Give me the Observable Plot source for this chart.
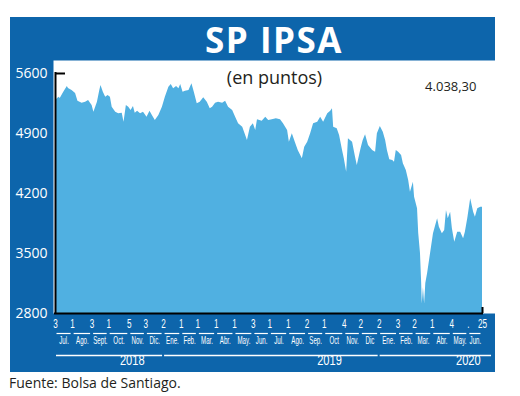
<!DOCTYPE html>
<html><head><meta charset="utf-8">
<script src="https://cdn.jsdelivr.net/npm/d3@7"></script>
<script src="https://cdn.jsdelivr.net/npm/@observablehq/plot@0.6"></script>
<style>
body{margin:0;background:#fff;width:520px;height:396px;position:relative;overflow:hidden;font-family:"Open Sans",sans-serif;}
#panel{position:absolute;left:10px;top:17px;width:485px;}
#title{height:43px;background:#0d65ab;color:#fff;font-weight:700;font-size:35px;line-height:45px;text-align:center;padding-left:43px;box-sizing:border-box;letter-spacing:1.5px;}
#chart svg{display:block}
#source{position:absolute;left:9px;top:374px;font-size:14px;color:#231f20;line-height:18px;}
</style></head><body>
<div id="panel"><div id="title">SP IPSA</div><div id="chart"></div></div>
<div id="source">Fuente: Bolsa de Santiago.</div>
<script>
const BLUE = "#0d65ab", FILL = "#50b0e1";

const dates = [
"2018-07-03","2018-07-09","2018-07-11","2018-07-17","2018-07-23","2018-07-25","2018-07-31","2018-08-06","2018-08-10","2018-08-17",
"2018-08-23","2018-08-28","2018-09-03","2018-09-06","2018-09-12","2018-09-16","2018-09-18","2018-09-22","2018-09-26","2018-09-30",
"2018-10-04","2018-10-07","2018-10-13","2018-10-18","2018-10-24","2018-10-27","2018-10-31","2018-11-04","2018-11-08","2018-11-12",
"2018-11-15","2018-11-19","2018-11-24","2018-11-29","2018-12-05","2018-12-10","2018-12-14","2018-12-19","2018-12-25","2018-12-31",
"2019-01-05","2019-01-11","2019-01-15","2019-01-19","2019-01-24","2019-01-28","2019-01-31","2019-02-04","2019-02-08","2019-02-14",
"2019-02-19","2019-02-23","2019-02-28","2019-03-05","2019-03-11","2019-03-17","2019-03-22","2019-03-26","2019-03-31","2019-04-05",
"2019-04-12","2019-04-17","2019-04-22","2019-04-29","2019-05-04","2019-05-09","2019-05-16","2019-05-21","2019-05-24","2019-05-29",
"2019-06-03","2019-06-07","2019-06-10","2019-06-18","2019-06-24","2019-06-29","2019-07-05","2019-07-12","2019-07-19","2019-07-24",
"2019-07-31","2019-08-03","2019-08-08","2019-08-13","2019-08-18","2019-08-25","2019-08-29","2019-09-03","2019-09-08","2019-09-13",
"2019-09-20","2019-09-25","2019-09-30","2019-10-07","2019-10-12","2019-10-15","2019-10-17","2019-10-23","2019-10-27","2019-11-01",
"2019-11-04","2019-11-08","2019-11-11","2019-11-18","2019-11-23","2019-11-26","2019-12-01","2019-12-03","2019-12-06","2019-12-10",
"2019-12-15","2019-12-22","2019-12-27","2019-12-30","2020-01-04","2020-01-09","2020-01-13","2020-01-16","2020-01-20","2020-01-25",
"2020-01-28","2020-01-31","2020-02-04","2020-02-09","2020-02-12","2020-02-17","2020-02-21","2020-02-24","2020-02-29","2020-03-02",
"2020-03-07","2020-03-09","2020-03-12","2020-03-14","2020-03-15","2020-03-17","2020-03-19","2020-03-21","2020-03-24","2020-03-29",
"2020-04-03","2020-04-06","2020-04-10","2020-04-13","2020-04-18","2020-04-22","2020-04-25","2020-04-28","2020-05-02","2020-05-05",
"2020-05-09","2020-05-14","2020-05-19","2020-05-24","2020-05-27","2020-05-31","2020-06-05","2020-06-10","2020-06-13","2020-06-17",
"2020-06-22","2020-06-25"];

const values = [
5285,5324,5308,5382,5448,5425,5402,5367,5277,5254,
5265,5285,5227,5149,5265,5402,5460,5382,5324,5343,
5324,5207,5149,5130,5137,5032,5227,5207,5168,5215,
5137,5160,5130,5149,5090,5160,5110,5052,5110,5207,
5324,5440,5472,5422,5448,5422,5472,5382,5394,5402,
5480,5382,5247,5265,5317,5265,5188,5207,5254,5265,
5254,5277,5207,5168,5090,5013,4974,4877,4818,4974,
5013,4935,5060,5044,5090,5052,5060,5072,5060,5013,
4935,4799,4897,4799,4702,4605,4740,4799,4897,5013,
5032,5090,5032,5130,5160,5188,4974,4955,4877,4702,
4605,4449,4838,4799,4624,4527,4682,4740,4818,4885,
4760,4702,4682,4897,4982,4915,4818,4702,4593,4585,
4565,4702,4682,4643,4547,4468,4352,4215,4332,4157,
4022,3733,3500,3150,2910,3100,2910,3150,3263,3497,
3730,3807,3905,3807,3730,3768,4002,3905,3982,3788,
3632,3749,3749,3671,3749,3905,4138,3982,3924,4022,
4040,4038.3];

const tickDates = ["2018-07-03","2018-08-01","2018-09-03","2018-10-01","2018-11-05","2018-12-03",
"2019-01-02","2019-02-01","2019-03-01","2019-04-01","2019-05-02","2019-06-03","2019-07-01","2019-08-01",
"2019-09-02","2019-10-01","2019-11-04","2019-12-02","2020-01-02","2020-02-03","2020-03-02","2020-04-01",
"2020-05-04","2020-06-01","2020-06-25"];
const tickLabels = ["3","1","3","1","5","3","2","1","1","1","1","3","1","1","2","1","4","2","2","3","2","1","4",".","25"];
const monthNames = ["Jul.","Ago.","Sept.","Oct.","Nov.","Dic.","Ene.","Feb.","Mar.","Abr.","May.","Jun.",
"Jul.","Ago.","Sep.","Oct","Nov.","Dic","Ene.","Feb.","Mar.","Abr.","May.","Jun."];
const years = ["2018","2019","2020"];
const yearStarts = ["2018-07-03","2019-01-02","2020-01-02"];
const yearEnds = ["2019-01-02","2020-01-02","2020-07-12"];
const yearLabelAt = ["2018-11-10","2019-10-10","2020-06-01"];
const yTicks = [2800,3500,4200,4900,5600];
const unitLabel = "(en puntos)";
const lastLabel = "4.038,30";

const series = dates.map((d,i)=>({date:new Date(d), value:values[i]}));
const ticks = tickDates.map((d,i)=>({date:new Date(d), label:tickLabels[i]}));
const months = monthNames.map((m,i)=>({name:m, start:ticks[i].date, end:ticks[i+1].date,
  mid:new Date((+ticks[i].date + +ticks[i+1].date)/2)}));
const yrs = years.map((y,i)=>({year:y, start:new Date(yearStarts[i]), end:new Date(yearEnds[i]), at:new Date(yearLabelAt[i])}));
const x0 = series[0].date, x1 = series[series.length-1].date;
const yMin = yTicks[0], yMax = yTicks[yTicks.length-1];
const narrow = "'Liberation Sans', Arial, sans-serif";

const chart = Plot.plot({
  width: 485, height: 312,
  marginLeft: 43, marginRight: 0, marginTop: 0, marginBottom: 59,
  style: {background: BLUE, fontFamily: "'Open Sans', sans-serif", fontSize: "14px", color: "white"},
  x: {type: "utc", domain: [x0, x1], insetLeft: 2, insetRight: 13, axis: null},
  y: {domain: [yMin, yMax], insetTop: 13, ticks: yTicks, tickFormat: "d", tickSize: 0, tickPadding: 6, label: null},
  marks: [
    Plot.frame({fill: "white", stroke: "none"}),
    Plot.areaY(series, {x: "date", y1: () => yMin, y2: "value", fill: FILL}),
    Plot.ruleX([x0], {y1: () => yMin, y2: () => yMax, stroke: "black", strokeWidth: 2, strokeLinecap: "square"}),
    Plot.ruleY([yMax], {x1: () => x0, x2: () => x0, insetRight: -10, stroke: "black", strokeWidth: 2}),
    Plot.ruleY([yMin], {x1: () => x0, x2: () => x1, stroke: "black", strokeWidth: 2, strokeLinecap: "square"}),
    Plot.ruleX([x1], {y1: () => yMin, y2: () => yMin, insetTop: -6, stroke: "black", strokeWidth: 2}),
    Plot.text([unitLabel], {text: d => d, frameAnchor: "top", dy: 11, fill: "#231f20", fontSize: 18}),
    Plot.text([lastLabel], {text: d => d, frameAnchor: "top-right", textAnchor: "end", dx: -19, dy: 21, fill: "#231f20", fontSize: 13}),
    Plot.text(ticks, {x: "date", text: "label", frameAnchor: "bottom", dy: 14, fill: "white", fontSize: 12, fontFamily: narrow}),
    Plot.ruleY(months, {y: () => yMin, x1: "start", x2: "end", dy: 20, insetLeft: 1.5, insetRight: 1.5, stroke: "white", strokeWidth: 1.2}),
    Plot.text(months, {x: "mid", text: "name", frameAnchor: "bottom", dy: 30, fill: "white", fontSize: 11, fontFamily: narrow}),
    Plot.ruleY(yrs, {y: () => yMin, x1: "start", x2: "end", dy: 42, insetLeft: 1, insetRight: 1, stroke: "white", strokeWidth: 1.5}),
    Plot.text(yrs, {x: "at", text: "year", frameAnchor: "bottom", dy: 51, fill: "white", fontSize: 15, fontFamily: narrow})
  ]
});

// condensed look for the small axis labels (horizontal scale of each glyph run)
const squeeze = {"12": 0.68, "11": 0.56, "15": 0.74};
d3.select(chart).selectAll("g").filter(function(){ return this.getAttribute("font-family") === narrow; })
  .each(function(){
    const k = squeeze[this.getAttribute("font-size")] || 1;
    d3.select(this).selectAll("text").each(function(){
      const t = d3.select(this);
      const tr = t.attr("transform") || "";
      const x = +t.attr("x") || 0, y = +t.attr("y") || 0;
      t.attr("x", null).attr("y", null)
       .attr("transform", `${tr} translate(${x},${y}) scale(${k},1)`);
    });
  });
document.getElementById("chart").appendChild(chart);
</script>
</body></html>
